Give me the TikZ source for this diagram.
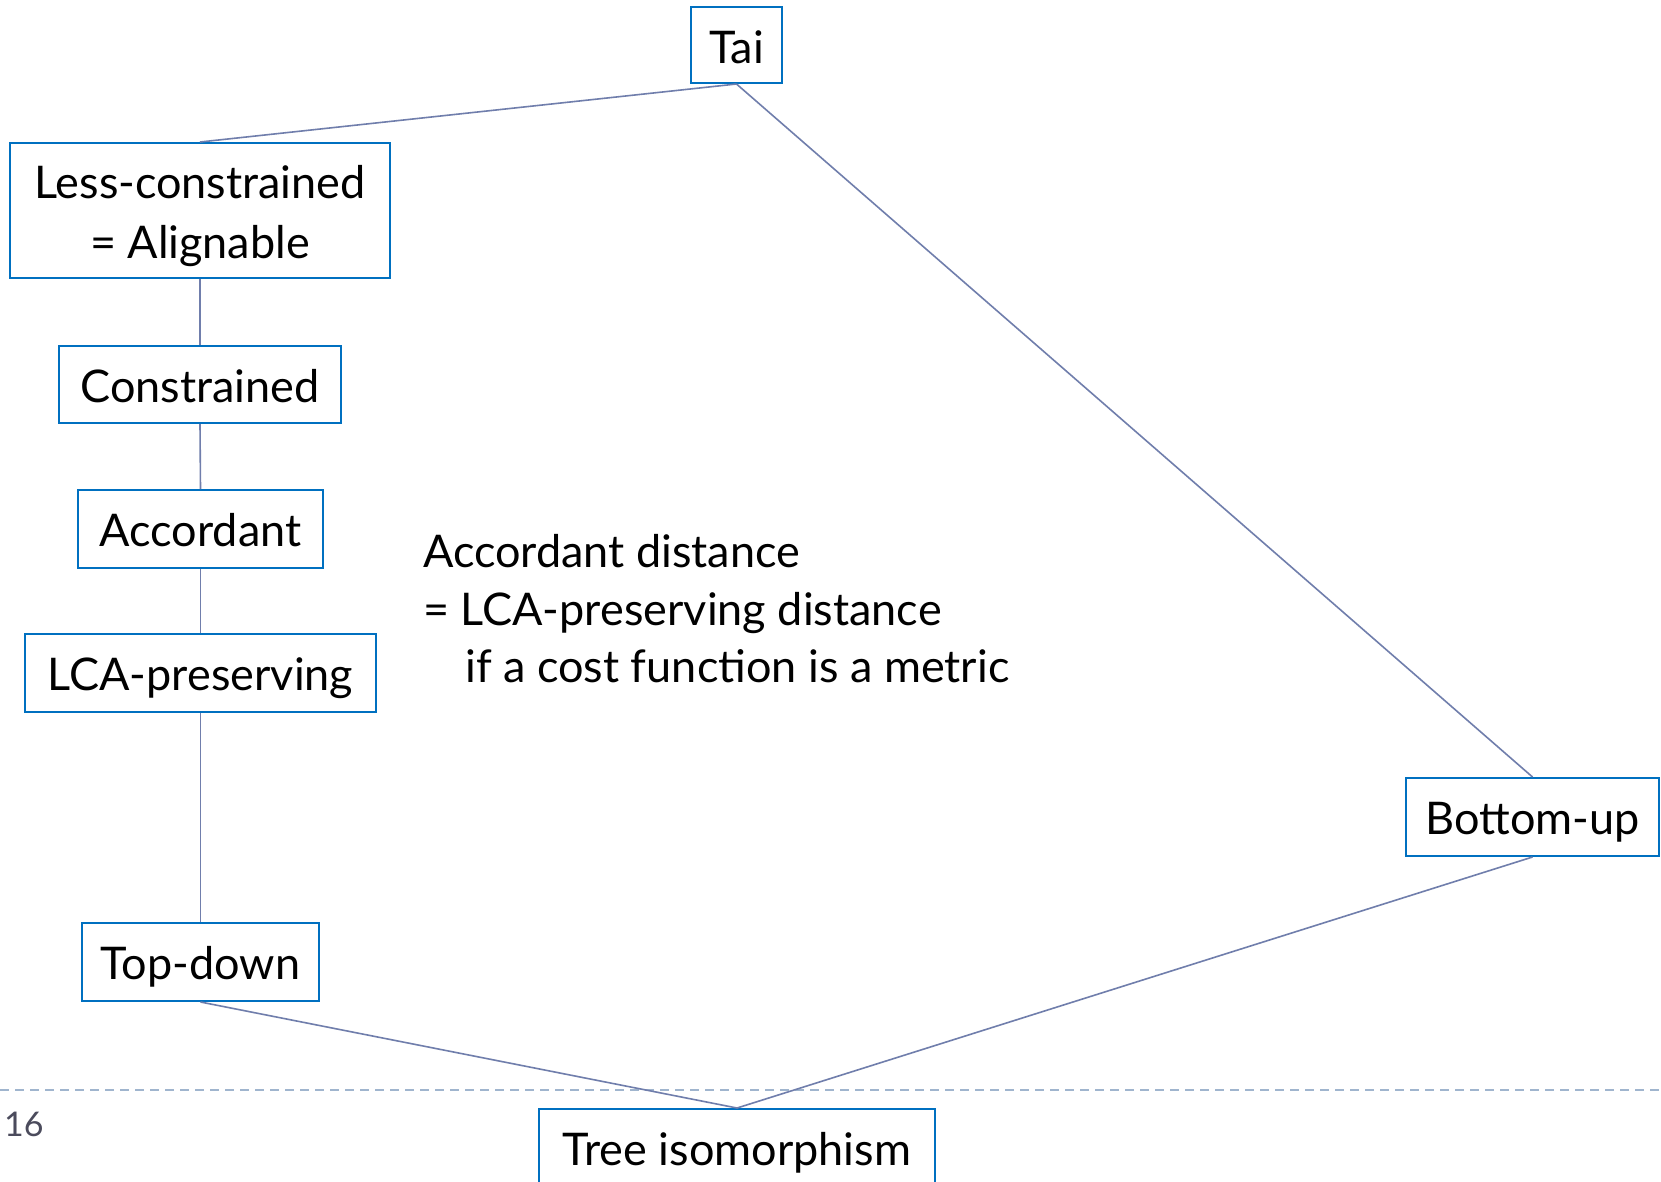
\documentclass[tikz,border=0pt]{standalone}
\usepackage{fontspec}
\setmainfont{Lato}
\definecolor{boxblue}{RGB}{0,112,192}
\definecolor{linkslate}{RGB}{112,126,172}
\definecolor{rulegray}{RGB}{160,181,206}
\definecolor{pagegray}{RGB}{75,75,92}
\begin{document}
\begin{tikzpicture}[x=1pt,y=-1pt,
  every node/.style={font=\fontsize{45}{60}\selectfont},
  cbox/.style={draw=boxblue, line width=2pt, fill=white, inner sep=0pt, align=center,
               text height=35.4pt, text depth=0pt},
  link/.style={draw=linkslate, line width=1.6pt}]
  \useasboundingbox (0,0) rectangle (1661,1181);
  \clip (0,0) rectangle (1661,1181);
  \fill[white] (0,0) rectangle (1661,1181);

  % footer rule and page number
  \draw[rulegray, line width=2pt, dash pattern=on 9pt off 6pt] (0,1090) -- (1661,1090);
  \node[anchor=base west, text=pagegray, font=\fontsize{34}{40}\selectfont, inner sep=0pt] (pagenum) at (4,1136) {16};

  % boxes
  \node[cbox, minimum width=91pt,  minimum height=76pt, text height=37pt] (tai) at (736.5,45) {Tai};
  \node[cbox, minimum width=380pt, minimum height=135pt, text height=95.4pt] (less) at (200,210.5) {Less-constrained\\= Alignable};
  \node[cbox, minimum width=282pt, minimum height=77pt]  (cons) at (200,384.5)  {Constrained};
  \node[cbox, minimum width=245pt, minimum height=78pt]  (acc)  at (200.5,529)  {Accordant};
  \node[cbox, minimum width=351pt, minimum height=78pt]  (lca)  at (200.5,673)  {LCA-preserving};
  \node[cbox, minimum width=237pt, minimum height=78pt]  (topd) at (200.5,962)  {Top-down};
  \node[cbox, minimum width=253pt, minimum height=78pt]  (botu) at (1532.5,817) {Bottom-up};
  \node[cbox, minimum width=396pt, minimum height=78pt]  (tree) at (737,1148)   {Tree isomorphism};

  % connectors
  \draw[link] (tai.south) -- (less.north);
  \draw[link] (tai.south) -- (botu.north);
  \draw[link] (less.south) -- (cons.north);
  \draw[link] (cons.south) -- (acc.north);
  \draw[link] (acc.south) -- (lca.north);
  \draw[link] (lca.south) -- (topd.north);
  \draw[link] (topd.south) -- (tree.north);
  \draw[link] (botu.south) -- (tree.north);

  % note
  \node[anchor=base west, inner sep=0pt] (noteA) at (423,567) {Accordant distance};
  \node[anchor=base west, inner sep=0pt] (noteB) at (423,625) {= LCA-preserving distance};
  \node[anchor=base west, inner sep=0pt] (noteC) at (465,682) {if a cost function is a metric};
\end{tikzpicture}
\end{document}
